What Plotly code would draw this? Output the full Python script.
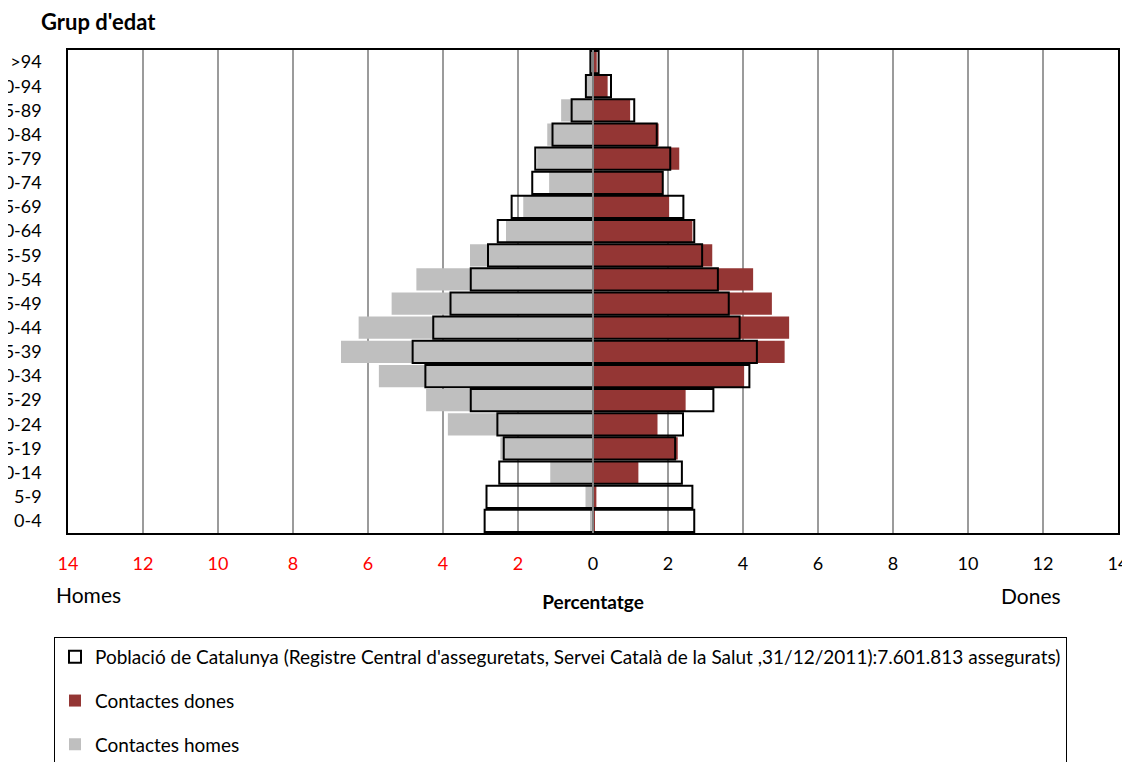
import plotly.graph_objects as go

# ---- data (percentages), age groups from youngest (bottom) to oldest (top)
age_groups = ["0-4", "5-9", "10-14", "15-19", "20-24", "25-29", "30-34", "35-39",
              "40-44", "45-49", "50-54", "55-59", "60-64", "65-69", "70-74",
              "75-79", "80-84", "85-89", "90-94", ">94"]

population_men = [2.89, 2.84, 2.50, 2.38, 2.55, 3.26, 4.47, 4.81, 4.26, 3.80,
                  3.26, 2.80, 2.54, 2.17, 1.62, 1.54, 1.08, 0.57, 0.19, 0.07]
population_women = [2.70, 2.65, 2.37, 2.19, 2.40, 3.21, 4.17, 4.37, 3.91, 3.62,
                    3.33, 2.91, 2.70, 2.41, 1.86, 2.06, 1.70, 1.10, 0.48, 0.15]
contacts_men = [0.08, 0.20, 1.14, 2.47, 3.87, 4.45, 5.71, 6.72, 6.25, 5.37,
                4.71, 3.28, 2.32, 1.86, 1.17, 1.49, 1.22, 0.85, 0.17, 0.05]
contacts_women = [0.04, 0.09, 1.21, 2.26, 1.72, 2.47, 4.03, 5.11, 5.23, 4.77,
                  4.27, 3.18, 2.65, 2.03, 1.84, 2.30, 1.75, 0.99, 0.39, 0.10]

tick_values = [-14, -12, -10, -8, -6, -4, -2, 0, 2, 4, 6, 8, 10, 12, 14]
tick_labels = ["14", "12", "10", "8", "6", "4", "2", "0", "2", "4", "6", "8", "10", "12", "14"]

pop_label = ("Població de Catalunya (Registre Central d'asseguretats, Servei Català de la Salut "
             ",31/12/2011):7.601.813 assegurats)")

FONT = "Lato, 'Open Sans', sans-serif"
RED = "#943634"
GREY = "#BFBFBF"

# the page body has an 8px default margin, so positions are offset by 8px
W, H = 1130, 754

fig = go.Figure()

# contacts (filled) first
fig.add_trace(go.Bar(
    y=age_groups, x=[-v for v in contacts_men], orientation="h",
    name="Contactes homes", marker=dict(color=GREY, line=dict(width=0)),
    legendgroup="c", legendrank=3))
fig.add_trace(go.Bar(
    y=age_groups, x=contacts_women, orientation="h",
    name="Contactes dones", marker=dict(color=RED, line=dict(width=0)),
    legendgroup="b", legendrank=2))
# population outlines on top
fig.add_trace(go.Bar(
    y=age_groups, x=[-v for v in population_men], orientation="h",
    name=pop_label, showlegend=False,
    marker=dict(color="rgba(255,255,255,0)", line=dict(color="#000000", width=2)),
    legendgroup="a"))
fig.add_trace(go.Bar(
    y=age_groups, x=population_women, orientation="h",
    name=pop_label,
    marker=dict(color="rgba(255,255,255,0)", line=dict(color="#000000", width=2)),
    legendgroup="a", legendrank=1))

ticktext = []
for v, t in zip(tick_values, tick_labels):
    ticktext.append(f"<span style='color:#FF0000'>{t}</span>" if v < 0 else t)

fig.update_layout(
    width=W, height=H,
    margin=dict(l=60, r=20, t=42, b=H - 525, autoexpand=False),
    paper_bgcolor="white", plot_bgcolor="white",
    barmode="overlay", bargap=0.08,
    font=dict(family=FONT, size=18, color="#000000"),
    xaxis=dict(
        range=[-14, 14], tickmode="array", tickvals=tick_values, ticktext=ticktext,
        showgrid=True, gridcolor="#9B9B9B", gridwidth=1.5, zeroline=False,
        showline=True, mirror=True, linecolor="#000000", linewidth=1.5,
        ticks="", ticklabelstandoff=14, automargin=False,
        tickfont=dict(size=18),
        title=dict(text="<b>Percentatge</b>", font=dict(size=19), standoff=22),
    ),
    yaxis=dict(
        type="category", categoryorder="array", categoryarray=age_groups,
        showgrid=False, zeroline=False,
        showline=True, mirror=True, linecolor="#000000", linewidth=1.5,
        ticks="", ticklabelstandoff=21, automargin=False,
        tickfont=dict(size=18),
    ),
    legend=dict(
        xref="container", yref="container", x=46 / W, y=1 - 629 / H,
        xanchor="left", yanchor="top",
        bordercolor="#000000", borderwidth=1, bgcolor="white",
        font=dict(size=19), traceorder="grouped", tracegroupgap=16,
    ),
    shapes=[dict(type="line", xref="x", yref="paper", x0=0, x1=0, y0=0, y1=1,
                 line=dict(color="#808080", width=2), layer="above")],
    annotations=[
        dict(text="<b>Grup d'edat</b>", xref="paper", yref="paper",
             x=(39 - 68) / 1050, y=1 + (50 - 22) / 483, xanchor="left", yanchor="middle",
             showarrow=False, font=dict(size=22)),
        dict(text="Homes", xref="paper", yref="paper",
             x=(54 - 68) / 1050, y=(533 - 594) / 483, xanchor="left", yanchor="middle",
             showarrow=False, font=dict(size=21)),
        dict(text="Dones", xref="paper", yref="paper",
             x=(1063 - 68) / 1050, y=(533 - 595) / 483, xanchor="right", yanchor="middle",
             showarrow=False, font=dict(size=21)),
    ],
    showlegend=True,
)

fig.write_html("out.html")
